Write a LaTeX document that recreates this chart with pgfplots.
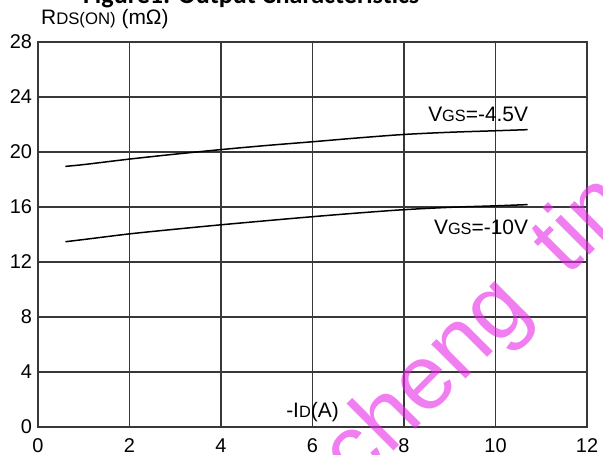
\documentclass[border=0pt]{standalone}
\usepackage{pgfplots}
\pgfplotsset{compat=1.18}
\usepackage{fontspec}
\setmainfont{Liberation Sans}
\newfontfamily\titlefont{Carlito}
\newcommand\sub[2][8.2]{{\fontsize{#1}{#1}\selectfont #2}}
\definecolor{wmark}{RGB}{230,40,230}

\begin{document}
\begin{tikzpicture}
\begin{axis}[
    scale only axis,
    width=274.5bp, height=192.5bp,
    xmin=0, xmax=12, ymin=0, ymax=28,
    xtick={0,2,...,12}, ytick={0,4,...,28},
    grid=major, grid style={black!78, line width=0.65bp},
    axis line style={black!78, line width=0.65bp},
    major tick length=0pt,
    tick label style={font=\fontsize{10}{12}\selectfont},
    /pgf/number format/assume math mode=true,
    xticklabel style={yshift=-2.5bp},
    yticklabel style={xshift=0.5bp},
    clip=false,
]
% V_GS = -4.5 V
\addplot[black, line width=0.75bp, smooth] coordinates {
    (0.6,18.95) (1,19.08) (2,19.48) (3,19.84) (4,20.17) (5,20.47)
    (6,20.74) (7,21.02) (8,21.27) (9,21.43) (10,21.54) (10.7,21.62)
};
% V_GS = -10 V
\addplot[black, line width=0.75bp, smooth] coordinates {
    (0.6,13.47) (1,13.63) (2,14.04) (3,14.38) (4,14.70) (5,15.00)
    (6,15.29) (7,15.56) (8,15.80) (9,15.97) (10,16.08) (10.7,16.17)
};
\node[anchor=east, inner sep=0pt, font=\fontsize{10.5}{12}\selectfont] at (axis cs:10.72,22.75) {V\sub{GS}=-4.5V};
\node[anchor=east, inner sep=0pt, font=\fontsize{10.5}{12}\selectfont] at (axis cs:10.72,14.55) {V\sub{GS}=-10V};
\node[anchor=base, inner sep=0pt, font=\fontsize{10.5}{12}\selectfont] at (axis cs:6,0.72) {-I\sub{D}(A)};
\node[anchor=base west, inner sep=0pt, font=\fontsize{10.5}{12}\selectfont] at (axis cs:0.06,29.24) {R\sub[8.4]{DS(ON)} (mΩ)};
\coordinate (ttl) at (axis cs:4.66,30.76);
\coordinate (wm) at (axis cs:6.857,-4.82);
\coordinate (bbsw) at (axis cs:-0.8306,-2.036);
\coordinate (bbne) at (axis cs:12.35,31.05);
\end{axis}
\pgfresetboundingbox
\useasboundingbox (bbsw) rectangle (bbne);
\begin{scope}
\clip (bbsw) rectangle (bbne);
\node[anchor=base, inner sep=0pt, font=\titlefont\bfseries\fontsize{13.1}{15}\selectfont] at (ttl) {Figure1: Output Characteristics};
\node[anchor=base west, rotate=45, text=wmark, text opacity=0.6,
      font=\fontsize{46}{50}\selectfont] at (wm) {cheng\hspace{0.25em} tin};
\end{scope}
\end{tikzpicture}
\end{document}
